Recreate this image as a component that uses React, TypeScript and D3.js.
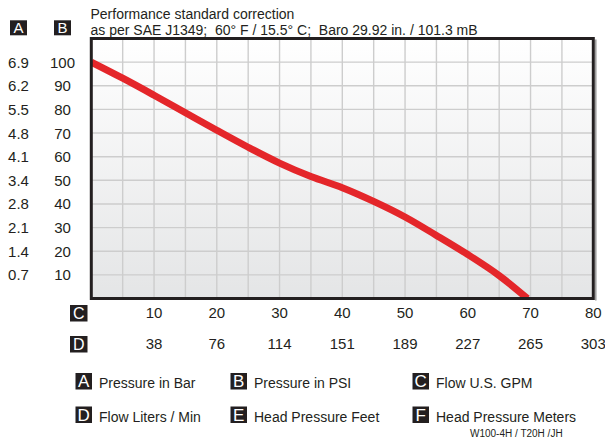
import React from "react";
import * as d3 from "d3";

const gpm = [0, 5, 10, 15, 20, 25, 30, 35, 40, 45, 50, 55, 60, 65, 69.5];
const psi = [100, 93.2, 86, 78.6, 71.2, 64, 57.3, 51.6, 46.9, 41.1, 34.5, 26.7, 18.6, 9.7, 0];

const psiTicks = [100, 90, 80, 70, 60, 50, 40, 30, 20, 10];
const barTicks = ["6.9", "6.2", "5.5", "4.8", "4.1", "3.4", "2.8", "2.1", "1.4", "0.7"];
const gpmTicks = [10, 20, 30, 40, 50, 60, 70, 80];
const lpmTicks = ["38", "76", "114", "151", "189", "227", "265", "303"];
const legendKeys = ["A", "B", "C", "D", "E", "F"];
const legendLabels = [
  "Pressure in Bar",
  "Pressure in PSI",
  "Flow U.S. GPM",
  "Flow Liters / Min",
  "Head Pressure Feet",
  "Head Pressure Meters",
];
const titleLine1 = "Performance standard correction";
const titleLine2 = "as per SAE J1349;  60° F / 15.5° C;  Baro 29.92 in. / 101.3 mB";
const footer = "W100-4H / T20H /JH";

const FONT = "'Liberation Sans', Arial, Helvetica, sans-serif";

export default function App() {
  const W = 605;
  const H = 439;
  const x0 = 91.3;
  const x1 = 593.3;
  const yTop = 38.5;
  const yBot = 298.5;
  const x = d3.scaleLinear().domain([0, 80]).range([x0, x1]);
  const y = d3.scaleLinear().domain([0, 110]).range([yBot, yTop]);

  const pts: [number, number][] = gpm.map((g, i) => [g, psi[i]]);
  const line = d3
    .line<[number, number]>()
    .x((d) => x(d[0]))
    .y((d) => y(d[1]))
    .curve(d3.curveCatmullRom.alpha(0.5));

  const vGrid = d3.range(5, 80, 5);
  const hGrid = d3.range(10, 110, 10);

  const box = (bx: number, by: number, w: number, h: number, letter: string, fs: number, key: string) => (
    <g key={key}>
      <rect x={bx} y={by} width={w} height={h} fill="#231f20" />
      <text
        x={bx + w / 2}
        y={by + h / 2 + fs * 0.36}
        textAnchor="middle"
        fill="#ffffff"
        fontSize={fs}
        fontFamily={FONT}
      >
        {letter}
      </text>
    </g>
  );

  const legendCols = [75.5, 230.5, 412.5];
  const legendRows = [373, 406.5];

  return (
    <div style={{ position: "absolute", left: 0, top: 0 }}>
      <svg width={W} height={H} style={{ display: "block" }}>
        <defs>
          <linearGradient id="bg" x1="0" y1="0" x2="0" y2="1">
            <stop offset="0%" stopColor="#ffffff" />
            <stop offset="100%" stopColor="#e4e5e6" />
          </linearGradient>
          <clipPath id="plotClip">
            <rect x={x0} y={yTop} width={x1 - x0} height={yBot - yTop} />
          </clipPath>
        </defs>
        <rect width={W} height={H} fill="#ffffff" />

        {/* title */}
        <text x={90.5} y={19} fontSize={14} fontFamily={FONT} fill="#231f20">
          {titleLine1}
        </text>
        <text x={90.5} y={34.5} fontSize={14} fontFamily={FONT} fill="#231f20" style={{ whiteSpace: "pre" }}>
          {titleLine2}
        </text>

        {/* header boxes */}
        {box(10, 20.3, 17, 15, "A", 15, "hA")}
        {box(54, 20.3, 17, 15, "B", 15, "hB")}

        {/* plot background */}
        <rect x={x0} y={yTop} width={x1 - x0} height={yBot - yTop} fill="url(#bg)" />
        {vGrid.map((g) => (
          <line key={"v" + g} x1={x(g)} x2={x(g)} y1={yTop} y2={yBot} stroke="#cdcdcd" strokeWidth={1.4} />
        ))}
        {hGrid.map((g) => (
          <line key={"h" + g} x1={x0} x2={x1} y1={y(g)} y2={y(g)} stroke="#cdcdcd" strokeWidth={1.4} />
        ))}

        {/* curve */}
        <path
          d={line(pts) || ""}
          fill="none"
          stroke="#e4262a"
          strokeWidth={7}
          clipPath="url(#plotClip)"
        />

        {/* frame */}
        <line x1={x1 + 2.5} x2={x1 + 2.5} y1={yTop + 1} y2={yBot + 2} stroke="#9a9a9a" strokeWidth={1.5} />
        <rect x={x0} y={yTop} width={x1 - x0} height={yBot - yTop} fill="none" stroke="#231f20" strokeWidth={3} />

        {/* y labels */}
        {psiTicks.map((p, i) => (
          <g key={"yl" + p}>
            <text x={18.5} y={y(p) + 5.5} textAnchor="middle" fontSize={15} fontFamily={FONT} fill="#231f20">
              {barTicks[i]}
            </text>
            <text x={62.5} y={y(p) + 5.5} textAnchor="middle" fontSize={15} fontFamily={FONT} fill="#231f20">
              {p}
            </text>
          </g>
        ))}

        {/* x labels */}
        {box(70, 305, 17.5, 16.5, "C", 16, "xC")}
        {box(70, 336, 17.5, 16.5, "D", 16, "xD")}
        {gpmTicks.map((g, i) => (
          <g key={"xl" + g}>
            <text x={x(g)} y={318.3} textAnchor="middle" fontSize={15} fontFamily={FONT} fill="#231f20">
              {g}
            </text>
            <text x={x(g)} y={349} textAnchor="middle" fontSize={15} fontFamily={FONT} fill="#231f20">
              {lpmTicks[i]}
            </text>
          </g>
        ))}

        {/* legend */}
        {legendKeys.map((k, i) => {
          const col = i % 3;
          const row = Math.floor(i / 3);
          const bx = legendCols[col];
          const by = legendRows[row];
          return (
            <g key={"lg" + k}>
              {box(bx, by, 16.5, 16.5, k, 17, "lb" + k)}
              <text x={bx + 23.5} y={by + 15.2} fontSize={14} fontFamily={FONT} fill="#231f20">
                {legendLabels[i]}
              </text>
            </g>
          );
        })}

        <text x={470} y={436.5} fontSize={10} fontFamily={FONT} fill="#231f20">
          {footer}
        </text>
      </svg>
    </div>
  );
}
